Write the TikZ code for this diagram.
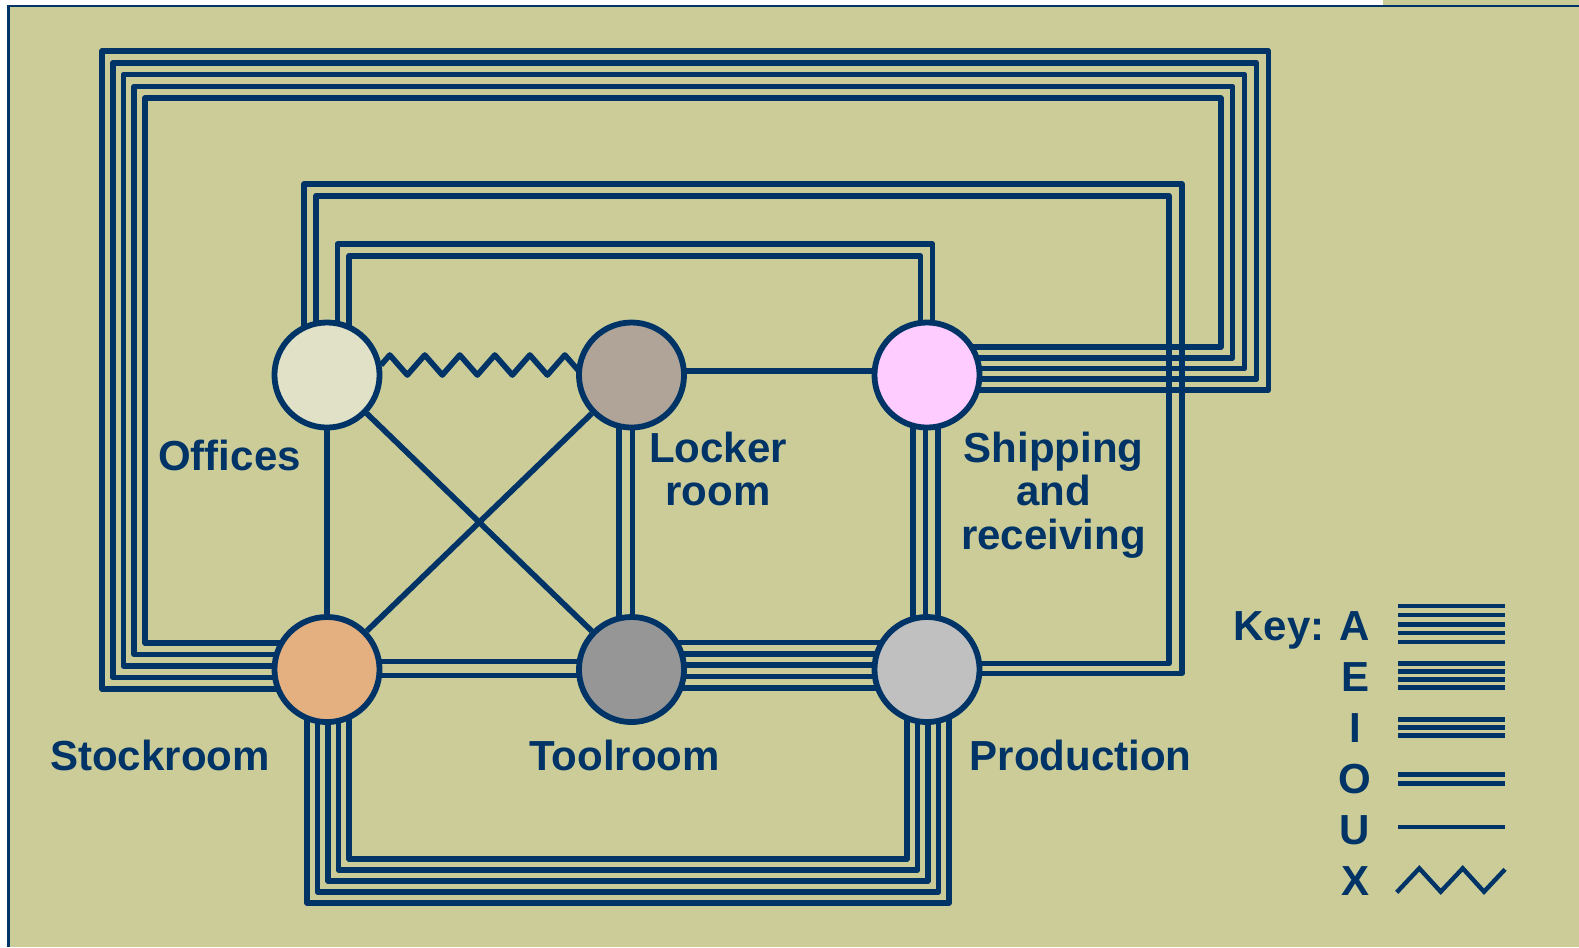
\documentclass[tikz,border=0pt]{standalone}
\usepackage{fontspec}
\setmainfont{Liberation Sans}
\usepackage{tikz}
\usetikzlibrary{calc, decorations.pathmorphing}
\pgfdeclarelayer{bg}
\pgfdeclarelayer{wires}
\pgfsetlayers{bg,wires,main}
\definecolor{navy}{RGB}{0,51,102}
\definecolor{khaki}{RGB}{204,204,153}
\definecolor{offfill}{RGB}{225,225,199}
\definecolor{lockfill}{RGB}{176,163,152}
\definecolor{shipfill}{RGB}{255,204,255}
\definecolor{stockfill}{RGB}{228,176,128}
\definecolor{toolfill}{RGB}{150,150,150}
\definecolor{prodfill}{RGB}{192,192,192}
\newcommand{\lblfont}{\fontsize{11.95}{12.3}\selectfont\bfseries}
\tikzset{
  dept/.style={
    circle, draw=navy, line width=1.65pt,
    minimum size=1.05cm, inner sep=0pt
  },
  wire/.style={navy, line width=1.6pt, line join=round},
  keywire/.style={navy, line width=1.25pt},
  lbl/.style={font=\lblfont, text=navy, inner sep=0pt},
}

\begin{document}
\begin{tikzpicture}[x=0.01cm, y=-0.01cm]
	\useasboundingbox (0,0) rectangle (1579,947);

	%% Slide background
	\begin{pgfonlayer}{bg}
		\fill[white] (0,0) rectangle (1579,947);
		\fill[khaki] (8.7,6) rectangle (1579,947);
		\fill[khaki] (1383,0) rectangle (1579,6);
		\draw[navy, line width=0.77pt] (8.7,947) -- (8.7,6) -- (1579,6);
	\end{pgfonlayer}

	%% Departments
	\node[dept, fill=offfill]   (off)   at (327,375)     {};
	\node[dept, fill=lockfill]  (lock)  at (631.5,375)   {};
	\node[dept, fill=shipfill]  (ship)  at (927,375)     {};
	\node[dept, fill=stockfill] (stock) at (327,669.5)   {};
	\node[dept, fill=toolfill]  (tool)  at (631.5,669.5) {};
	\node[dept, fill=prodfill]  (prod)  at (927,669.5)   {};

	%% Labels
	\node[lbl, anchor=base] (offlbl) at (229.5,470) {Offices};
	\node[lbl, anchor=north, align=center] (locklbl) at (718,431.5) {Locker\\room};
	\node[lbl, anchor=north, align=center] (shiplbl) at (1053.5,431.5)
	{Shipping\\and\\receiving};
	\node[lbl, anchor=base] (stocklbl) at (160,770)    {Stockroom};
	\node[lbl, anchor=base] (toollbl)  at (624.5,770)  {Toolroom};
	\node[lbl, anchor=base] (prodlbl)  at (1080.5,770) {Production};

	%% Relationships
	\begin{pgfonlayer}{wires}
		% A: stockroom -- shipping, round the top
		\foreach \i in {0,...,4}{
			\pgfmathsetmacro{\ya}{19.5-11.5*\i}
			\pgfmathsetmacro{\xl}{102+10.75*\i}
			\pgfmathsetmacro{\yt}{51+11.8*\i}
			\pgfmathsetmacro{\xr}{1268.3-11.9*\i}
			\pgfmathsetmacro{\yb}{15-10.75*\i}
			\draw[wire] ($(stock)+(0,\ya)$) -| (\xl,\yt) -- (\xr,\yt) |- ($(ship)+(0,\yb)$);
		}
		% A: stockroom -- production, round the bottom
		\foreach \i in {0,...,4}{
			\pgfmathsetmacro{\xa}{-20+10.5*\i}
			\pgfmathsetmacro{\yd}{233.5-11*\i}
			\pgfmathsetmacro{\xb}{22-10.5*\i}
			\draw[wire] ($(stock)+(\xa,0)$) -- ($(stock)+(\xa,\yd)$) -| ($(prod)+(\xb,0)$);
		}
		% A: toolroom -- production
		\foreach \o in {-27,-15.7,-4.4,6.9,18.2}
		\draw[wire] ($(tool)+(0,\o)$) -- ($(prod)+(0,\o)$);
		% I: shipping -- production
		\foreach \o in {-14,-1.5,11}
		\draw[wire] ($(ship)+(\o,0)$) -- ($(prod)+(\o,0)$);
		% O: offices -- production, round the top
		\foreach \xa/\yt/\xr/\yp in {-23/184/1181.7/4, -11/195.7/1169/-6}
		\draw[wire] ($(off)+(\xa,0)$) |- (\xr,\yt) |- ($(prod)+(0,\yp)$);
		% O: offices -- shipping
		\foreach \xa/\dy/\xb in {10.5/-131/5.5, 22/-119/-6.5}
		\draw[wire] ($(off)+(\xa,0)$) -- ($(off)+(\xa,\dy)$) -| ($(ship)+(\xb,0)$);
		% O: stockroom -- toolroom, locker room -- toolroom
		\foreach \o in {-8,6}
		\draw[wire] ($(stock)+(0,\o)$) -- ($(tool)+(0,\o)$);
		\foreach \o in {-12.5,1}
		\draw[wire] ($(lock)+(\o,0)$) -- ($(tool)+(\o,0)$);
		% U
		\draw[wire] (off) -- (stock);
		\draw[wire] (off) -- (tool);
		\draw[wire] (lock) -- (stock);
		\draw[wire] ($(lock)+(0,-4)$) -- ($(ship)+(0,-4)$);
		% X
		\draw[wire, decorate, decoration={zigzag, segment length=0.35cm, amplitude=0.1cm}]
		($(off)+(54,-10)$) -- ($(lock)+(0,-10)$);
	\end{pgfonlayer}

	%% Key
	\node[lbl, anchor=base] (keylbl) at (1279,640) {Key:};
	\foreach \c [count=\k from 0] in {A,E,I,O,U,X}
	\node[lbl, anchor=base] (key\c) at (1355,{640+51*\k}) {\c};
	\foreach \y in {606,615,624.5,633,642}
	\draw[keywire] (1398,\y) -- (1505,\y);
	\foreach \y in {663.5,671.5,679.5,687.5}
	\draw[keywire] (1398,\y) -- (1505,\y);
	\foreach \y in {719.5,727.5,735.5}
	\draw[keywire] (1398,\y) -- (1505,\y);
	\foreach \y in {774.5,783.5}
	\draw[keywire] (1398,\y) -- (1505,\y);
	\draw[keywire] (1398,827) -- (1505,827);
	\draw[keywire] (1396.7,892.3) -- (1419.3,868.3) -- (1440.7,891.7)
	-- (1462.7,868.3) -- (1484,891.7) -- (1505,869.3);

\end{tikzpicture}
\end{document}
